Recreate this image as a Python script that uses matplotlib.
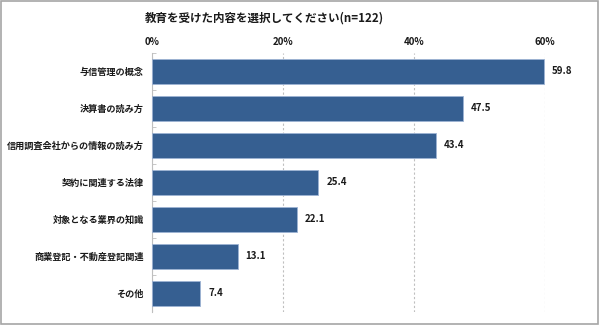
import matplotlib
matplotlib.use('Agg')
import matplotlib.pyplot as plt
from matplotlib.patches import Rectangle

plt.rcParams['font.family'] = ['Noto Sans CJK JP', 'DejaVu Sans']

# data
categories = ['与信管理の概念', '決算書の読み方', '信用調査会社からの情報の読み方',
              '契約に関連する法律', '対象となる業界の知識', '商業登記・不動産登記関連', 'その他']
values = [59.8, 47.5, 43.4, 25.4, 22.1, 13.1, 7.4]
xticks = [0, 20, 40, 60]
xtick_labels = ['0%', '20%', '40%', '60%']
title = '教育を受けた内容を選択してください(n=122)'

bar_color = '#365f91'

fig = plt.figure(figsize=(6, 3.25), dpi=100)
ax = fig.add_axes([0.2533, 0.04, 0.655, 0.797])

pos = list(range(len(categories)))
ax.barh(pos, values, height=0.68, color=bar_color, edgecolor='#9db3d4', linewidth=0.6, zorder=3)
for p, v in zip(pos, values):
    ax.text(v + 1.2, p, f'{v:.1f}', va='center', ha='left', fontsize=7, fontweight='bold', color='#1a1a1a')

ax.set_ylim(len(categories) - 0.5, -0.5)
ax.set_xlim(0, 60)
ax.set_yticks(pos)
ax.set_yticklabels(categories, fontsize=6.6, fontweight='bold', color='#1a1a1a')
ax.set_yticks([p + 0.5 for p in pos[:-1]] + [-0.5], minor=True)
ax.tick_params(axis='y', which='major', length=0, pad=6)
ax.tick_params(axis='y', which='minor', length=3, direction='in', color='#bfbfbf')

ax.xaxis.tick_top()
ax.set_xticks(xticks)
ax.set_xticklabels(xtick_labels, fontsize=7, fontweight='bold', color='#1a1a1a')
ax.tick_params(axis='x', length=0, pad=4)
ax.grid(axis='x', linestyle=(0, (2, 2)), color='#bfbfbf', linewidth=0.8, zorder=0)

for s in ['top', 'right', 'bottom']:
    ax.spines[s].set_visible(False)
ax.spines['left'].set_color('#bfbfbf')
ax.spines['left'].set_linewidth(0.8)

fig.text(0.44, 0.945, title, ha='center', va='center', fontsize=8.3, fontweight='bold', color='#1a1a1a')

# outer frame
fig.patches.append(Rectangle((0.002, 0.003), 0.995, 0.994, transform=fig.transFigure,
                             fill=False, edgecolor='#a6a6a6', linewidth=1.2))

fig.savefig('out.png', dpi=100)
